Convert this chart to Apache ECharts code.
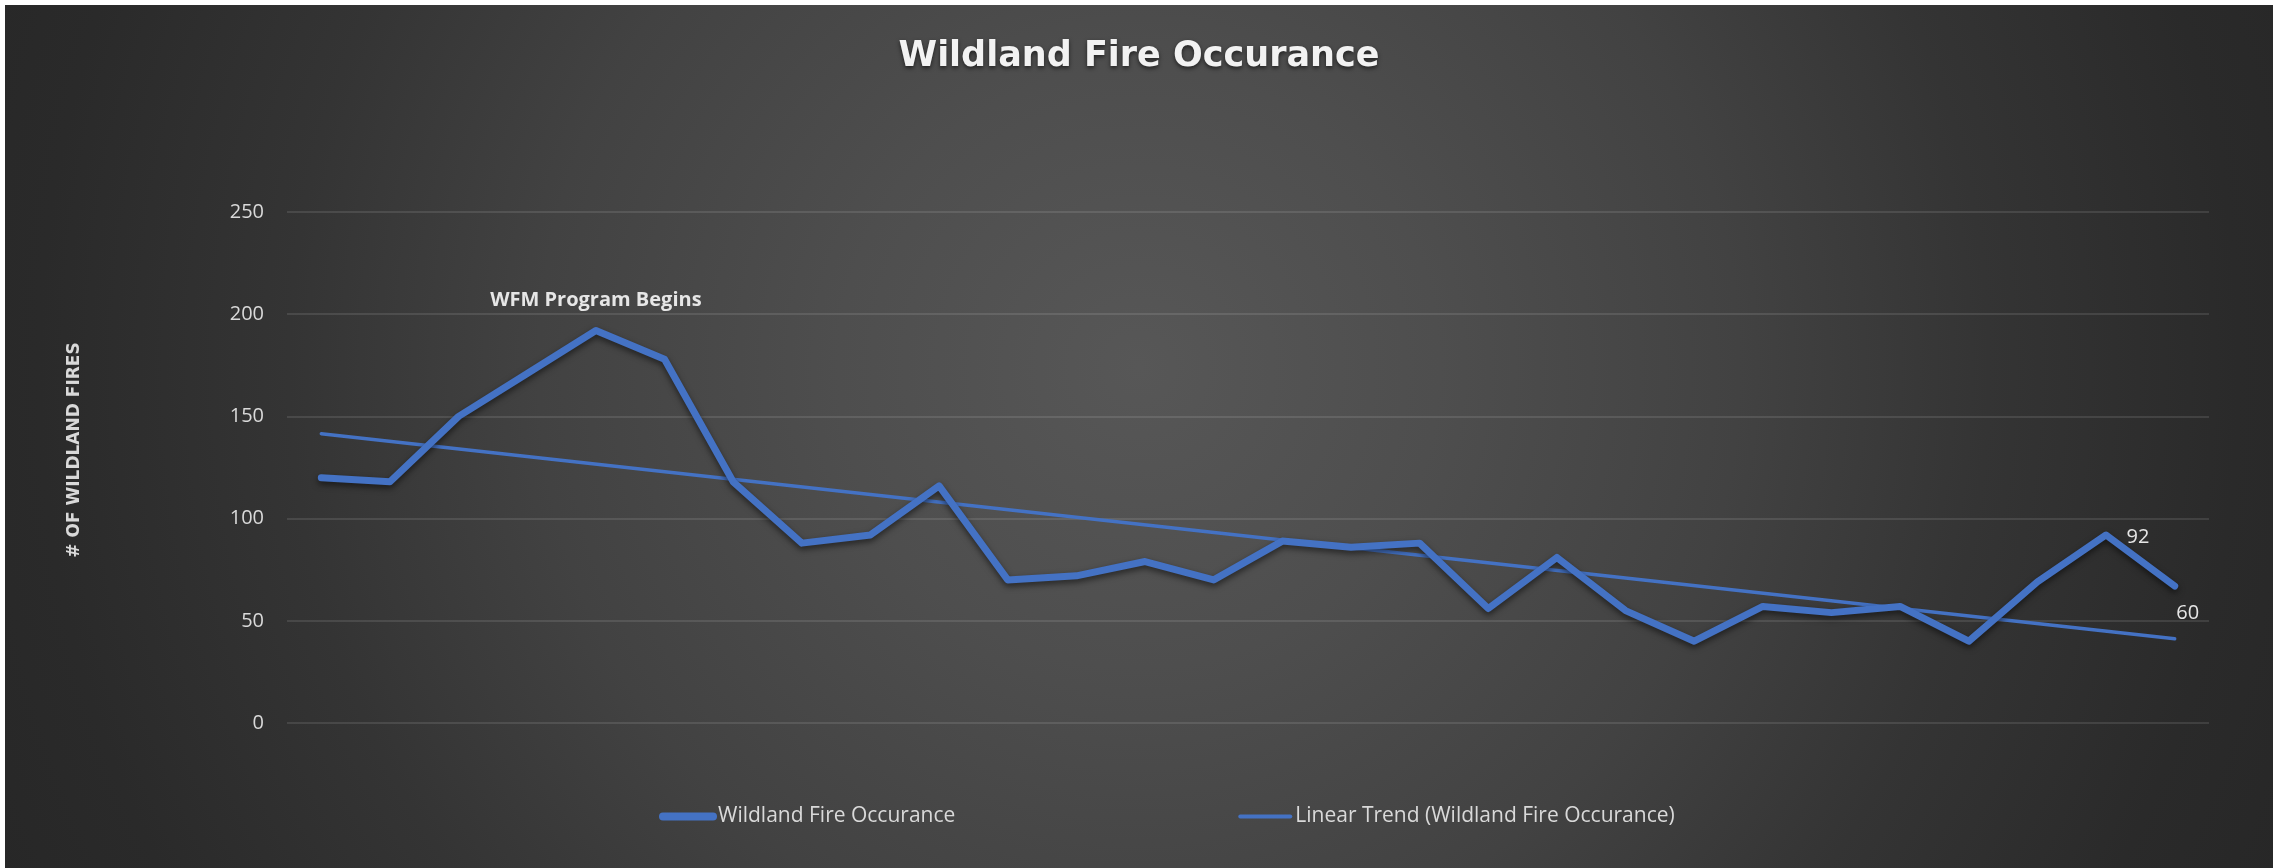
<!DOCTYPE html>
<html>
<head>
<meta charset="utf-8">
<script src="https://cdn.jsdelivr.net/npm/echarts@6/dist/echarts.min.js"></script>
<style>
  html, body { margin: 0; padding: 0; background: #ffffff; width: 2273px; height: 868px; overflow: hidden; }
  #chart {
    position: absolute; left: 5px; top: 5px; width: 2268px; height: 863px;
    background: radial-gradient(circle at 50% 42%, #575757 0px, #4e4e4e 300px, #424242 600px, #343434 850px, #2a2a2a 1100px, #252525 1350px);
  }
</style>
</head>
<body>
<div id="chart"></div>
<script>
// ---- data ----
const titleText = 'Wildland Fire Occurance';
const yAxisTitle = '# OF WILDLAND FIRES';
const seriesName = 'Wildland Fire Occurance';
const trendName = 'Linear Trend (Wildland Fire Occurance)';
const categories = ['1','2','3','4','5','6','7','8','9','10','11','12','13','14',
                    '15','16','17','18','19','20','21','22','23','24','25','26','27','28'];
const fireCounts = [120, 118, 150, 171, 192, 178, 118, 88, 92, 116, 70, 72, 79, 70,
                    89, 86, 88, 56, 81, 55, 40, 57, 54, 57, 40, 69, 92, 67];
const trendEnds = [141.5, 41.2];           // trend line value at first and last category
const yTicks = [0, 50, 100, 150, 200, 250];
const annotationIndex = [4, 26, 27];
const annotationText = ['WFM Program Begins', '92', '60'];

// ---- styling / building ----
const BLUE = '#4472C4';
const labelStyles = [
  { position: 'top', distance: 20, fontWeight: 'bold', fontSize: 20 },
  { position: 'right', distance: 20, offset: [0, 2], fontSize: 20 },
  { position: 'inside', offset: [13, 27], fontSize: 20 }
];
const mainData = fireCounts.map((v, i) => {
  const k = annotationIndex.indexOf(i);
  if (k < 0) return v;
  return {
    value: v,
    label: Object.assign({
      show: true, formatter: annotationText[k], color: '#e6e6e6',
      fontFamily: 'Open Sans'
    }, labelStyles[k])
  };
});
const lastIdx = categories.length - 1;
const trendData = categories.map((c, i) => i === 0 ? trendEnds[0] : (i === lastIdx ? trendEnds[1] : null));

const chart = echarts.init(document.getElementById('chart'), null, { renderer: 'canvas' });
chart.setOption({
  backgroundColor: 'transparent',
  animation: false,
  textStyle: { fontFamily: 'Open Sans' },
  title: {
    text: titleText, left: 'center', top: 29,
    textStyle: {
      color: '#f2f2f2', fontSize: 35, fontWeight: 'bold', fontFamily: 'DejaVu Sans',
      textShadowColor: 'rgba(0,0,0,0.6)', textShadowBlur: 4, textShadowOffsetY: 2
    }
  },
  graphic: [{
    type: 'text', x: 70, y: 445, rotation: Math.PI / 2,
    style: {
      text: yAxisTitle, fill: '#d9d9d9', font: 'bold 17px "DejaVu Sans"',
      align: 'center', verticalAlign: 'middle'
    }
  }],
  legend: {
    left: 649, top: 796, itemWidth: 50, itemHeight: 10, itemGap: 283,
    itemStyle: { color: 'rgba(0,0,0,0)', borderWidth: 0 },
    textStyle: { color: '#d9d9d9', fontSize: 21, fontFamily: 'Open Sans' },
    data: [
      { name: seriesName, lineStyle: { color: BLUE, width: 8, cap: 'round' } },
      { name: trendName, lineStyle: { color: BLUE, width: 4, cap: 'round' } }
    ]
  },
  grid: { left: 282, right: 64, top: 207, bottom: 145 },
  xAxis: {
    type: 'category', data: categories, boundaryGap: true,
    axisLine: { show: false }, axisTick: { show: false }, axisLabel: { show: false },
    splitLine: { show: false }
  },
  yAxis: {
    type: 'value', min: yTicks[0], max: yTicks[yTicks.length - 1], interval: yTicks[1] - yTicks[0],
    axisLine: { show: false }, axisTick: { show: false },
    axisLabel: { color: '#d9d9d9', fontSize: 20, margin: 23, fontFamily: 'Open Sans' },
    splitLine: { lineStyle: { color: 'rgba(255,255,255,0.14)', width: 1.5 } }
  },
  series: [
    {
      name: seriesName, type: 'line', data: mainData,
      symbol: 'circle', symbolSize: 1, showSymbol: true,
      itemStyle: { color: BLUE },
      lineStyle: {
        color: BLUE, width: 7, cap: 'round', join: 'round',
        shadowColor: 'rgba(0,0,0,0.55)', shadowBlur: 6, shadowOffsetY: 3
      },
      z: 3
    },
    {
      name: trendName, type: 'line', data: trendData, connectNulls: true,
      symbol: 'none', itemStyle: { color: BLUE },
      lineStyle: { color: BLUE, width: 3.5, cap: 'round' },
      z: 2
    }
  ]
});
</script>
</body>
</html>
